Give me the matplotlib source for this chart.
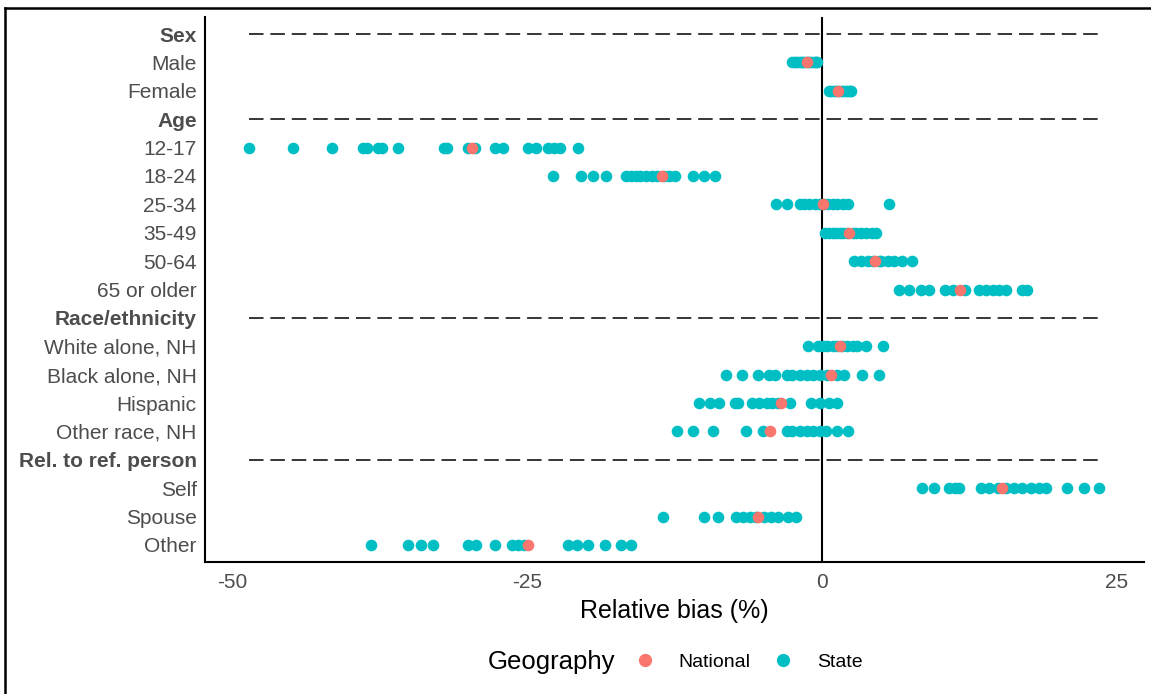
import matplotlib.pyplot as plt
from matplotlib.lines import Line2D

plt.rcParams['font.family'] = ['Liberation Sans', 'DejaVu Sans']

rows = ["Sex", "Male", "Female", "Age", "12-17", "18-24", "25-34", "35-49", "50-64",
        "65 or older", "Race/ethnicity", "White alone, NH", "Black alone, NH", "Hispanic",
        "Other race, NH", "Rel. to ref. person", "Self", "Spouse", "Other"]
headers = ["Sex", "Age", "Race/ethnicity", "Rel. to ref. person"]

# state estimates of relative bias (%) per group
state_vals = {
    "Male": [-2.5, -2.3, -2.1, -1.9, -1.7, -1.5, -1.3, -1.1, -0.9, -0.7, -0.5, -0.4],
    "Female": [0.6, 0.8, 1.0, 1.2, 1.4, 1.6, 1.8, 2.0, 2.2, 2.4, 2.5],
    "12-17": [-48.6, -44.8, -41.5, -38.9, -38.6, -37.6, -37.3, -35.9, -32.0, -31.8, -30.0,
              -29.4, -27.7, -27.0, -24.9, -24.2, -23.2, -22.7, -22.2, -20.7],
    "18-24": [-22.8, -20.4, -19.4, -18.3, -16.6, -16.2, -15.8, -15.4, -14.9, -14.4, -14.0,
              -13.4, -13.0, -12.5, -10.9, -10.0, -9.1],
    "25-34": [-3.9, -3.0, -1.9, -1.5, -1.1, -0.6, -0.2, 0.2, 0.5, 0.9, 1.3, 1.8, 2.2, 5.7],
    "35-49": [0.3, 0.6, 0.9, 1.2, 1.5, 1.8, 2.1, 2.6, 2.9, 3.3, 3.7, 4.2, 4.6],
    "50-64": [2.75, 3.3, 3.9, 4.3, 4.8, 5.0, 5.6, 6.1, 6.8, 7.6],
    "65 or older": [6.5, 7.4, 8.4, 9.1, 10.4, 11.1, 12.1, 13.3, 13.9, 14.5, 15.0, 15.6, 17.0, 17.4],
    "White alone, NH": [-1.2, -0.3, 0.1, 0.4, 0.9, 1.3, 1.7, 2.1, 2.6, 3.0, 3.7, 5.2],
    "Black alone, NH": [-8.1, -6.8, -5.4, -4.5, -4.0, -3.0, -2.5, -1.9, -1.3, -0.8, -0.2,
                        0.4, 1.3, 1.9, 3.4, 4.8],
    "Hispanic": [-10.4, -9.5, -8.7, -7.4, -7.1, -5.9, -5.3, -4.7, -4.2, -3.7, -2.75, -0.9,
                 -0.2, 0.6, 1.3],
    "Other race, NH": [-12.3, -10.9, -9.25, -6.4, -5.0, -3.0, -2.5, -1.9, -1.3, -0.8, -0.2,
                       0.35, 1.3, 2.2],
    "Self": [8.5, 9.5, 10.8, 11.3, 11.65, 13.5, 14.2, 14.9, 15.6, 16.3, 17.0, 17.7, 18.4,
             19.0, 20.8, 22.2, 23.5],
    "Spouse": [-13.5, -10.0, -8.8, -7.3, -6.7, -6.1, -5.6, -4.9, -4.3, -3.7, -2.9, -2.2],
    "Other": [-38.2, -35.1, -34.0, -33.0, -30.0, -29.3, -27.7, -26.3, -25.8, -25.3, -21.5,
              -20.8, -19.8, -18.4, -17.0, -16.2],
}

national_vals = {
    "Male": -1.25, "Female": 1.35, "12-17": -29.7, "18-24": -13.6, "25-34": 0.1,
    "35-49": 2.3, "50-64": 4.5, "65 or older": 11.7, "White alone, NH": 1.5,
    "Black alone, NH": 0.8, "Hispanic": -3.5, "Other race, NH": -4.4, "Self": 15.3,
    "Spouse": -5.4, "Other": -24.9,
}

red = "#F8766D"
teal = "#00BFC4"
gray = "#4D4D4D"

fig = plt.figure(figsize=(11.51, 6.94), dpi=100)
ax = fig.add_axes([205 / 1151, 1 - 562 / 694, (1144 - 205) / 1151, (562 - 17) / 694])

ypos = {name: i + 1 for i, name in enumerate(rows)}

all_state = [v for vals in state_vals.values() for v in vals]
xmin, xmax = min(all_state), max(all_state)

for h in headers:
    ax.plot([xmin, xmax], [ypos[h], ypos[h]], color="black", lw=1.1,
            linestyle=(0, (9.5, 4.5)), zorder=1)

ax.axvline(0, color="black", lw=1.5, zorder=2)

for name, vals in state_vals.items():
    ax.scatter(vals, [ypos[name]] * len(vals), s=70, color=teal, linewidths=0, zorder=3)
for name, v in national_vals.items():
    ax.scatter([v], [ypos[name]], s=70, color=red, linewidths=0, zorder=4)

ax.set_xlim(-52.3, 27.3)
ax.set_ylim(len(rows) + 0.6, 0.4)
ax.set_xticks([-50, -25, 0, 25])
ax.set_xticklabels(["-50", "-25", "0", "25"])
ax.set_yticks([ypos[r] for r in rows])
ax.set_yticklabels(rows)
for lab in ax.get_yticklabels():
    if lab.get_text() in headers:
        lab.set_fontweight("bold")
ax.tick_params(length=0, labelsize=15, labelcolor=gray)
ax.tick_params(axis="y", pad=6)
ax.tick_params(axis="x", pad=8)
ax.spines["top"].set_visible(False)
ax.spines["right"].set_visible(False)
ax.spines["left"].set_linewidth(1.5)
ax.spines["bottom"].set_linewidth(1.5)
ax.set_xlabel("Relative bias (%)", fontsize=18, color="black", labelpad=5)

handles = [Line2D([], [], marker="o", linestyle="", color=red, markersize=8.5),
           Line2D([], [], marker="o", linestyle="", color=teal, markersize=8.5)]
fig.text(488 / 1151, 1 - 662 / 694, "Geography", fontsize=18.5, va="center", ha="left")
fig.legend(handles, ["National", "State"], loc="center left", ncol=2, frameon=False,
           bbox_to_anchor=(635 / 1151, 1 - 662 / 694), fontsize=14, borderpad=0,
           borderaxespad=0, handlelength=1.0, handletextpad=1.22, columnspacing=1.2)

# frame at the left and top edge
fig.add_artist(Line2D([5 / 1151, 5 / 1151], [0, 1 - 8 / 694], color="black", lw=1.8))
fig.add_artist(Line2D([5 / 1151, 1], [1 - 8 / 694, 1 - 8 / 694], color="black", lw=1.8))

fig.savefig("out.png", dpi=100)
